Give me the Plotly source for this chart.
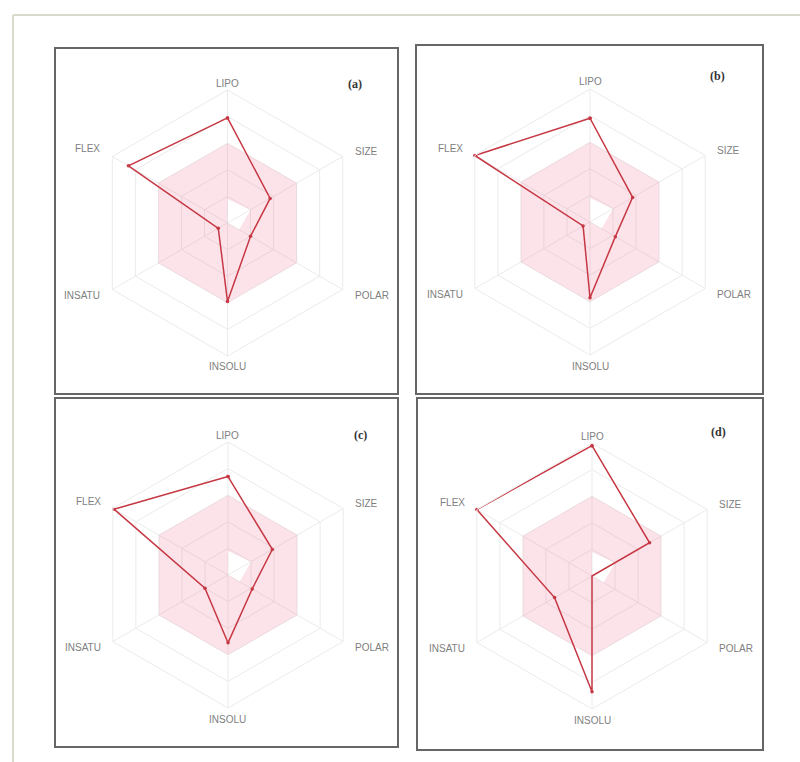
import plotly.graph_objects as go

# Bioavailability radar axes (clockwise from the top)
categories = ["LIPO", "SIZE", "POLAR", "INSOLU", "INSATU", "FLEX"]

# Normalised property scores per compound (0 = centre, 1 = outer ring)
compound_a = [0.79, 0.37, 0.20, 0.59, 0.08, 0.86]
compound_b = [0.78, 0.37, 0.22, 0.57, 0.06, 1.00]
compound_c = [0.74, 0.385, 0.21, 0.51, 0.20, 0.99]
compound_d = [0.98, 0.50, 0.00, 0.87, 0.325, 1.00]

# Optimal (pink) zone: outer and inner limits on each axis
zone_outer = [0.60, 0.60, 0.60, 0.60, 0.60, 0.60]
zone_inner = [0.18, 0.20, 0.10, 0.00, 0.00, 0.00]

panel_labels = ["(a)", "(b)", "(c)", "(d)"]
series = [compound_a, compound_b, compound_c, compound_d]

W, H = 800, 762
R = 133
centers = [(227.5, 223), (590, 222), (228, 575), (592, 576)]
boxes = [(55, 48, 398, 394), (416, 45, 763, 394), (55, 398, 398, 747), (417, 398, 763, 750)]
label_pos = [(355, 75), (727, 67), (360, 435), (728, 432)]

# axis-name placement around each radar: (dx, dy, xanchor)
axis_label_offsets = [(0, -140, "center"), (125, -72, "left"), (125, 72, "left"),
                      (0, 144, "center"), (-125, 72, "right"), (-125, -74, "right")]

RED = "#c63844"
GRID = "#ebebeb"

fig = go.Figure()
layout = dict(
    width=W, height=H,
    margin=dict(l=0, r=0, t=0, b=0),
    paper_bgcolor="white",
    showlegend=False,
    shapes=[], annotations=[],
)

closed = categories + [categories[0]]
ring_theta = closed + list(reversed(categories)) + [categories[0]]

for i, (vals, (cx, cy)) in enumerate(zip(series, centers)):
    key = "polar" if i == 0 else f"polar{i + 1}"
    layout[key] = dict(
        domain=dict(x=[(cx - R) / W, (cx + R) / W],
                    y=[1 - (cy + R) / H, 1 - (cy - R) / H]),
        gridshape="linear",
        bgcolor="rgba(0,0,0,0)",
        radialaxis=dict(range=[0, 1], tickvals=[0.2, 0.4, 0.6, 0.8, 1.0],
                        showticklabels=False, ticks="", showline=False,
                        gridcolor=GRID, gridwidth=1),
        angularaxis=dict(type="category", categoryorder="array",
                         categoryarray=categories, direction="clockwise",
                         rotation=90, ticks="", showline=True,
                         showticklabels=False,
                         linecolor=GRID, linewidth=1,
                         gridcolor=GRID, gridwidth=1),
    )

    # optimal zone as a ring: outer path then inner path in reverse
    ring_r = zone_outer + [zone_outer[0]] + list(reversed(zone_inner)) + [zone_inner[0]]
    fig.add_trace(go.Scatterpolar(
        r=ring_r, theta=ring_theta, subplot=key, mode="lines",
        fill="toself", fillcolor="rgba(240,100,140,0.19)",
        line=dict(width=0, color="rgba(0,0,0,0)"), hoverinfo="skip"))

    fig.add_trace(go.Scatterpolar(
        r=vals + [vals[0]], theta=closed, subplot=key, mode="lines+markers",
        line=dict(color=RED, width=1.5),
        marker=dict(color=RED, size=3.5)))

    # axis names
    for name, (dx, dy, anchor) in zip(categories, axis_label_offsets):
        layout["annotations"].append(dict(
            text=name, xref="paper", yref="paper",
            x=(cx + dx) / W, y=1 - (cy + dy) / H,
            xanchor=anchor, yanchor="middle", showarrow=False,
            font=dict(family="Liberation Sans", size=10, color="#808080")))

    x0, y0, x1, y1 = boxes[i]
    layout["shapes"].append(dict(
        type="rect", xref="paper", yref="paper",
        x0=x0 / W, x1=x1 / W, y0=1 - y1 / H, y1=1 - y0 / H,
        line=dict(color="#666666", width=2)))

    lx, ly = label_pos[i]
    layout["annotations"].append(dict(
        text=f"<b>{panel_labels[i]}</b>", xref="paper", yref="paper",
        x=lx / W, y=1 - ly / H, showarrow=False,
        font=dict(family="Liberation Serif", size=12, color="#333333")))

# outer frame (top and left edges)
layout["shapes"].append(dict(type="line", xref="paper", yref="paper",
                             x0=13 / W, x1=1, y0=1 - 15 / H, y1=1 - 15 / H,
                             line=dict(color="#d6dbcb", width=2)))
layout["shapes"].append(dict(type="line", xref="paper", yref="paper",
                             x0=13 / W, x1=13 / W, y0=0, y1=1 - 15 / H,
                             line=dict(color="#d6dbcb", width=2)))

fig.update_layout(**layout)
fig.write_html("out.html")
